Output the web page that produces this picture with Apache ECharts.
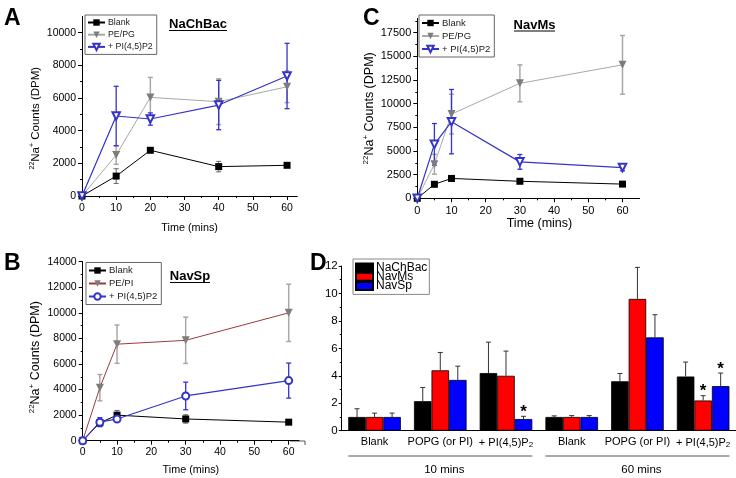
<!DOCTYPE html>
<html><head><meta charset="utf-8">
<script src="https://cdn.jsdelivr.net/npm/echarts@6/dist/echarts.min.js"></script>
<style>html,body{margin:0;padding:0;background:#fff}#c{width:736px;height:478px}</style>
</head><body><div id="c"></div>
<script>
// ---------- Panel A : NaChBac ----------
const timeA = [0, 10, 20, 40, 60];
const aBlank = [0, 1220, 2800, 1800, 1880];
const aBlankErr = [0, 450, 100, 320, 80];
const aPEPG = [0, 2510, 6040, 5775, 6690];
const aPEPGErr = [0, 570, 1225, 1400, 970];
const aPIP2 = [0, 4900, 4715, 5570, 7350];
const aPIP2Err = [0, 1820, 375, 1510, 2000];
// ---------- Panel C : NavMs ----------
const timeC = [0, 5, 10, 30, 60];
const cBlank = [0, 1480, 2100, 1800, 1500];
const cBlankErr = [0, 150, 300, 250, 120];
const cPEPG = [0, 3600, 8900, 12150, 14100];
const cPEPGErr = [0, 1050, 2100, 1950, 3100];
const cPIP2 = [0, 5700, 8100, 3850, 3250];
const cPIP2Err = [0, 2200, 3400, 780, 350];
// ---------- Panel B : NavSp ----------
const timeB = [0, 5, 10, 30, 60];
const bBlank = [0, 1400, 2000, 1700, 1450];
const bBlankErr = [0, 150, 370, 330, 80];
const bPEPI = [0, 4150, 7550, 7850, 10000];
const bPEPIErr = [0, 1030, 1500, 1810, 2240];
const bPIP2 = [0, 1450, 1700, 3500, 4700];
const bPIP2Err = [0, 350, 200, 1080, 1370];
// ---------- Panel D ----------
const dCategories = ['Blank', 'POPG (or PI)', '+ PI(4,5)P2', 'Blank', 'POPG (or PI)', '+ PI(4,5)P2'];
const dGroups = ['10 mins', '60 mins'];
const dNaChBac = [1.0, 2.15, 4.2, 1.0, 3.6, 3.95];
const dNaChBacErr = [0.6, 1.0, 2.25, 0.08, 0.57, 1.05];
const dNavMs = [1.0, 4.4, 4.0, 1.0, 9.6, 2.2];
const dNavMsErr = [0.28, 1.3, 1.8, 0.1, 2.3, 0.35];
const dNavSp = [1.0, 3.7, 0.85, 1.0, 6.8, 3.25];
const dNavSpErr = [0.28, 1.0, 0.2, 0.1, 1.65, 0.95];
const dNaChBacStar = [0, 0, 0, 0, 0, 0];
const dNavMsStar = [0, 0, 0, 0, 0, 1];
const dNavSpStar = [0, 0, 1, 0, 0, 1];
// tick labels
const timeTicks = [0, 10, 20, 30, 40, 50, 60];
const aYTicks = [0, 2000, 4000, 6000, 8000, 10000];
const cYTicks = [0, 2500, 5000, 7500, 10000, 12500, 15000, 17500];
const bYTicks = [0, 2000, 4000, 6000, 8000, 10000, 12000, 14000];

const FF = 'Liberation Sans, Arial, sans-serif';
const BLUE = '#3434c8', GRAYL = '#a8a8a8', GRAYM = '#7c7c7c', BROWN = '#9c3a3a';

const chart = echarts.init(document.getElementById('c'), null, {renderer: 'canvas'});

function pair(xs, ys) { return xs.map((x, i) => [x, ys[i]]); }
const plain = v => String(v);

function errSeries(gi, xs, ys, es, color, width) {
  return {
    type: 'custom', xAxisIndex: gi, yAxisIndex: gi, z: 1, silent: true,
    data: xs.map((x, i) => [x, ys[i], es[i]]),
    renderItem(params, api) {
      const x = api.value(0), y = api.value(1), e = api.value(2);
      if (!e) return null;
      const t = api.coord([x, y + e]), b = api.coord([x, y - e]);
      const cw = 2.5;
      const st = {stroke: color, lineWidth: width};
      return {type: 'group', children: [
        {type: 'line', shape: {x1: t[0], y1: t[1], x2: b[0], y2: b[1]}, style: st},
        {type: 'line', shape: {x1: t[0] - cw, y1: t[1], x2: t[0] + cw, y2: t[1]}, style: st},
        {type: 'line', shape: {x1: b[0] - cw, y1: b[1], x2: b[0] + cw, y2: b[1]}, style: st}
      ]};
    }
  };
}

function lineSeries(gi, name, xs, ys, opt) {
  return Object.assign({
    type: 'line', name, xAxisIndex: gi, yAxisIndex: gi, z: 3,
    data: pair(xs, ys), showAllSymbol: true,
  }, opt);
}

const blankStyle = {symbol: 'rect', symbolSize: 7, itemStyle: {color: '#000'}, lineStyle: {color: '#000', width: 1}};
const grayStyle = {symbol: 'triangle', symbolRotate: 180, symbolSize: 8, itemStyle: {color: GRAYM}, lineStyle: {color: GRAYL, width: 1}};
const blueTri = {symbol: 'emptyTriangle', symbolRotate: 180, symbolSize: 7.5, itemStyle: {color: BLUE, borderColor: BLUE, borderWidth: 1.1}, lineStyle: {color: BLUE, width: 1.2}};
const blueCirc = {symbol: 'emptyCircle', symbolSize: 7, itemStyle: {color: BLUE, borderColor: BLUE, borderWidth: 1.1}, lineStyle: {color: BLUE, width: 1.2}};
const brownStyle = {symbol: 'triangle', symbolRotate: 180, symbolSize: 8, itemStyle: {color: GRAYM}, lineStyle: {color: BROWN, width: 1}};

function timeAxis(gi, max, fs, nameFs, nameGap, padLeft, margin) {
  return {
    type: 'value', gridIndex: gi, min: 0, max: max, interval: 10,
    axisLine: {show: true, onZero: false, lineStyle: {color: '#000', width: 1}},
    axisTick: {show: true, length: 4, customValues: timeTicks, lineStyle: {color: '#000'}},
    minorTick: {show: true, splitNumber: 2, length: 2, lineStyle: {color: '#000'}},
    axisLabel: {customValues: timeTicks, formatter: plain, fontSize: fs, color: '#000', margin: margin, fontFamily: FF},
    splitLine: {show: false},
    name: 'Time (mins)', nameLocation: 'middle', nameGap: nameGap,
    nameTextStyle: {fontSize: nameFs, color: '#000', fontFamily: FF, padding: [0, 0, 0, padLeft || 0]}
  };
}
function countAxis(gi, max, interval, ticks, fs, nameFs, nameGap, shiftPad) {
  return {
    type: 'value', gridIndex: gi, min: 0, max: max, interval: interval,
    axisLine: {show: true, onZero: false, lineStyle: {color: '#000', width: 1}},
    axisTick: {show: true, length: 4, customValues: ticks, lineStyle: {color: '#000'}},
    minorTick: {show: true, splitNumber: 2, length: 2, lineStyle: {color: '#000'}},
    axisLabel: {customValues: ticks, formatter: plain, fontSize: fs, color: '#000', margin: 6, fontFamily: FF},
    splitLine: {show: false},
    name: '{s|22}Na{s|+} Counts (DPM)', nameLocation: 'middle', nameGap: nameGap, nameRotate: 90,
    nameTextStyle: {fontSize: nameFs, color: '#000', fontFamily: FF, lineHeight: nameFs + 3,
      padding: [0, shiftPad || 0, 0, 0],
      rich: {s: {fontSize: Math.round(nameFs * 0.6), fontFamily: FF, color: '#000', verticalAlign: 'top', lineHeight: nameFs + 3, padding: [0, 0, 4, 0]}}}
  };
}

function legendFor(names, left, top, fs, gap) {
  return {
    data: names, orient: 'vertical', left: left, top: top,
    itemWidth: 17, itemHeight: 8, itemGap: gap, padding: [3, 4, 3, 2],
    borderColor: '#666', borderWidth: 1, borderRadius: 0, selectedMode: false,
    formatter: n => n.split('|')[1],
    textStyle: {fontSize: fs, color: '#222', fontFamily: FF, padding: [0, 0, 0, -2]}
  };
}

function dLabel(v) { return v.replace(/P2$/, 'P{sub|2}'); }

// Panel D error bars / stars
const dSeriesVals = [dNaChBac, dNavMs, dNavSp];
const dSeriesErr = [dNaChBacErr, dNavMsErr, dNavSpErr];
const dSeriesStar = [dNaChBacStar, dNavMsStar, dNavSpStar];
const dErrData = [];
dSeriesVals.forEach((vals, s) => vals.forEach((v, i) => dErrData.push([i, v, dSeriesErr[s][i], s, dSeriesStar[s][i]])));

const option = {
  backgroundColor: '#fff',
  animation: false,
  textStyle: {fontFamily: FF},
  grid: [
    {left: 82, top: 16.4, width: 215.3, height: 179.6, outerBoundsMode: 'none'},
    {left: 417.3, top: 18.5, width: 222.3, height: 179.8, outerBoundsMode: 'none'},
    {left: 82.7, top: 261.7, width: 216.3, height: 179, outerBoundsMode: 'none'},
    {left: 341.7, top: 266, width: 394.3, height: 164.7, outerBoundsMode: 'none'}
  ],
  xAxis: [
    timeAxis(0, 63, 10.5, 10.8, 27, 0, 7),
    timeAxis(1, 65, 11, 12.5, 14, 22, 7),
    timeAxis(2, 63, 10.5, 10.8, 24, 0, 6),
    {type: 'category', gridIndex: 3, data: dCategories,
      axisLine: {show: true, lineStyle: {color: '#000', width: 1}},
      axisTick: {show: false},
      axisLabel: {interval: 0, fontSize: 11, color: '#000', margin: 6, fontFamily: FF,
        formatter: dLabel,
        rich: {sub: {fontSize: 8, fontFamily: FF, color: '#000', verticalAlign: 'bottom', padding: [4, 0, 0, 0]}}}}
  ],
  yAxis: [
    countAxis(0, 11000, 2000, aYTicks, 10.5, 11.5, 34, 24),
    countAxis(1, 19000, 2500, cYTicks, 11, 12.5, 36, 0),
    countAxis(2, 14000, 2000, bYTicks, 10.5, 12.5, 33, 12),
    {type: 'value', gridIndex: 3, min: 0, max: 12, interval: 2,
      axisLine: {show: true, lineStyle: {color: '#000', width: 1}},
      axisTick: {show: true, length: 3, lineStyle: {color: '#000'}},
      minorTick: {show: true, splitNumber: 2, length: 2, lineStyle: {color: '#000'}},
      axisLabel: {fontSize: 11.5, color: '#000', margin: 4, fontFamily: FF},
      splitLine: {show: false}}
  ],
  legend: [
    legendFor(['A|Blank', 'A|PE/PG', 'A|+ PI(4,5)P2'], 85, 15, 8.8, 3.2),
    legendFor(['C|Blank', 'C|PE/PG', 'C|+ PI(4,5)P2'], 419, 15, 9.5, 3),
    legendFor(['B|Blank', 'B|PE/PI', 'B|+ PI(4,5)P2'], 86, 262.5, 9.5, 3),
    {data: ['D|NaChBac', 'D|NavMs', 'D|NavSp'], orient: 'vertical', left: 353, top: 259,
      itemWidth: 17, itemHeight: 8, itemGap: -2.8, padding: [2.5, 2, 2.5, 2], icon: 'rect',
      borderColor: '#888', borderWidth: 1, borderRadius: 0, selectedMode: false,
      formatter: n => n.split('|')[1],
      textStyle: {fontSize: 12, color: '#000', fontFamily: FF, padding: [0, 0, 0, -2]}}
  ],
  series: [
    // A
    errSeries(0, timeA, aBlank, aBlankErr, '#666', 1),
    errSeries(0, timeA, aPEPG, aPEPGErr, GRAYL, 1.5),
    errSeries(0, timeA, aPIP2, aPIP2Err, BLUE, 1.3),
    lineSeries(0, 'A|Blank', timeA, aBlank, blankStyle),
    lineSeries(0, 'A|PE/PG', timeA, aPEPG, grayStyle),
    lineSeries(0, 'A|+ PI(4,5)P2', timeA, aPIP2, blueTri),
    // C
    errSeries(1, timeC, cBlank, cBlankErr, '#666', 1),
    errSeries(1, timeC, cPEPG, cPEPGErr, GRAYL, 1.5),
    errSeries(1, timeC, cPIP2, cPIP2Err, BLUE, 1.3),
    lineSeries(1, 'C|Blank', timeC, cBlank, blankStyle),
    lineSeries(1, 'C|PE/PG', timeC, cPEPG, grayStyle),
    lineSeries(1, 'C|+ PI(4,5)P2', timeC, cPIP2, blueTri),
    // B
    errSeries(2, timeB, bBlank, bBlankErr, '#666', 1),
    errSeries(2, timeB, bPEPI, bPEPIErr, GRAYL, 1.5),
    errSeries(2, timeB, bPIP2, bPIP2Err, BLUE, 1.3),
    lineSeries(2, 'B|Blank', timeB, bBlank, blankStyle),
    lineSeries(2, 'B|PE/PI', timeB, bPEPI, brownStyle),
    lineSeries(2, 'B|+ PI(4,5)P2', timeB, bPIP2, blueCirc),
    // D
    {type: 'bar', name: 'D|NaChBac', xAxisIndex: 3, yAxisIndex: 3, data: dNaChBac, barGap: '0%', barCategoryGap: '20%',
      itemStyle: {color: '#000', borderColor: '#000', borderWidth: 0.8}},
    {type: 'bar', name: 'D|NavMs', xAxisIndex: 3, yAxisIndex: 3, data: dNavMs, barGap: '0%', barCategoryGap: '20%',
      itemStyle: {color: '#ff0000', borderColor: '#000', borderWidth: 0.8}},
    {type: 'bar', name: 'D|NavSp', xAxisIndex: 3, yAxisIndex: 3, data: dNavSp, barGap: '0%', barCategoryGap: '20%',
      itemStyle: {color: '#0000ff', borderColor: '#000', borderWidth: 0.8}},
    {type: 'custom', xAxisIndex: 3, yAxisIndex: 3, z: 4, silent: true, data: dErrData,
      renderItem(params, api) {
        const ci = api.value(0), v = api.value(1), e = api.value(2), s = api.value(3), star = api.value(4);
        const band = api.size([1, 0])[0];
        const bw = band * 0.8 / 3;
        const base = api.coord([ci, v]);
        const cx = base[0] - band * 0.4 + bw * (s + 0.5);
        const top = api.coord([ci, v + e])[1];
        const st = {stroke: '#333', lineWidth: 1};
        const ch = [
          {type: 'line', shape: {x1: cx, y1: base[1], x2: cx, y2: top}, style: st},
          {type: 'line', shape: {x1: cx - 2.5, y1: top, x2: cx + 2.5, y2: top}, style: st}
        ];
        if (star) ch.push({type: 'text', style: {text: '*', x: cx, y: top - 4, align: 'center', verticalAlign: 'middle',
          fontSize: 17, fontWeight: 'bold', fontFamily: FF, fill: '#000'}});
        return {type: 'group', children: ch};
      }}
  ]
};
chart.setOption(option);

// decorative text: panel letters, titles, group labels
function txt(t, x, y, fs, bold, align) {
  return {type: 'text', style: {text: t, x, y, fontSize: fs, fontWeight: bold ? 'bold' : 'normal', fontFamily: FF,
    fill: '#000', align: align || 'left', verticalAlign: 'middle'}};
}
function uline(x1, x2, y) {
  return {type: 'line', shape: {x1, y1: y, x2, y2: y}, style: {stroke: '#000', lineWidth: 1}};
}
const g = [];
g.push(txt('A', 4, 18.5, 23, true));
g.push(txt('C', 363, 18.5, 23, true));
g.push(txt('B', 4, 263.5, 23, true));
g.push(txt('D', 310, 263.5, 23, true));
g.push(txt('NaChBac', 198, 24.5, 13, true, 'center'), uline(169, 227, 30.5));
g.push(txt('NavMs', 534.5, 25, 13, true, 'center'), uline(514, 555, 31));
g.push(txt('NavSp', 190, 276.5, 13, true, 'center'), uline(170, 210, 282.5));
// group underlines computed from category axis
const c0 = chart.convertToPixel({xAxisIndex: 3}, 0), c1 = chart.convertToPixel({xAxisIndex: 3}, 1);
const band = c1 - c0;
const lineY = 456;
[[0, 2], [3, 5]].forEach((r, k) => {
  const xa = chart.convertToPixel({xAxisIndex: 3}, r[0]) - band * 0.4;
  const xb = chart.convertToPixel({xAxisIndex: 3}, r[1]) + band * 0.4;
  g.push({type: 'line', shape: {x1: xa, y1: lineY, x2: xb, y2: lineY}, style: {stroke: '#555', lineWidth: 1}});
  g.push(txt(dGroups[k], (xa + xb) / 2 + 4, 470, 11.5, false, 'center'));
});
g.push({type: 'polyline', shape: {points: [[290, 441], [305, 441], [305, 445]]}, style: {stroke: '#555', lineWidth: 1, fill: null}});
chart.setOption({graphic: {elements: g}});
</script>
</body></html>
